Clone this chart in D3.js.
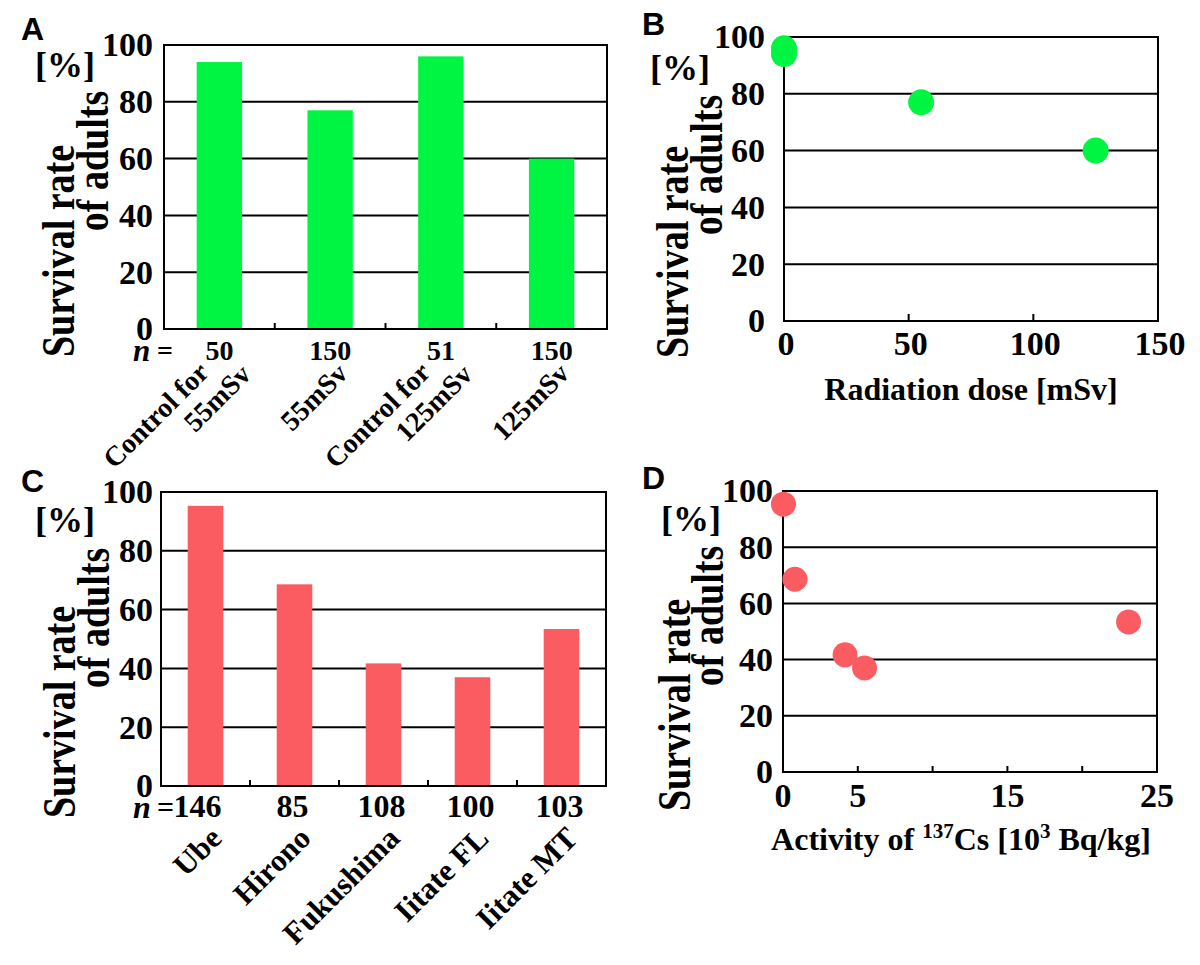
<!DOCTYPE html>
<html><head><meta charset="utf-8">
<script src="https://cdn.jsdelivr.net/npm/d3@7"></script>
<style>
body{margin:0;background:#fff}
svg{display:block}
text{font-family:"Liberation Serif","Times New Roman",serif;font-weight:bold;fill:#000}
.letter{font-family:"Liberation Sans",Arial,sans-serif}
</style>
</head><body><svg id="c" width="1200" height="965"></svg>
<script>
// ---------- data ----------
const yTicks = [0, 20, 40, 60, 80, 100];
const catA = [["Control for", "55mSv"], ["55mSv"], ["Control for", "125mSv"], ["125mSv"]];
const nA = ["50", "150", "51", "150"];
const survA = [94, 77, 96, 60];

const doseB = [0, 0, 55, 125];
const survB = [94, 96, 77, 60];
const xTicksB = [0, 50, 100, 150];

const catC = ["Ube", "Hirono", "Fukushima", "Iitate FL", "Iitate MT"];
const nC = ["146", "85", "108", "100", "103"];
const survC = [95.3, 68.6, 41.7, 37.0, 53.4];

const actD = [0.03, 0.8, 4.15, 5.45, 23.1];
const survD = [95.3, 68.6, 41.7, 37.0, 53.4];
const xTickMarksD = [5, 10, 15, 20];
const xTickLabelsD = [0, 5, 15, 25];

const GREEN = "#00f442", RED = "#fa5c62";
const svg = d3.select("#c");

function frame(L, R, T, B, y) {
  svg.append("g").selectAll("line").data(yTicks.filter(v => v > 0 && v < 100)).enter()
    .append("line").attr("x1", L).attr("x2", R)
    .attr("y1", d => y(d)).attr("y2", d => y(d))
    .attr("stroke", "#000").attr("stroke-width", 2);
}
function border(L, R, T, B) {
  svg.append("rect").attr("x", L).attr("y", T).attr("width", R - L).attr("height", B - T)
    .attr("fill", "none").attr("stroke", "#000").attr("stroke-width", 2);
}
function yAxis(L, y, pad, fs) {
  const ax = svg.append("g").attr("transform", `translate(${L},0)`)
    .call(d3.axisLeft(y).tickValues(yTicks).tickSize(0).tickPadding(pad));
  ax.select(".domain").remove();
  ax.selectAll("text").attr("font-size", fs).attr("font-family", null)
    .style("font-family", '"Liberation Serif",serif').style("font-weight", "bold");
}
function yTitle(x1, c1, x2, c2, px, py) {
  svg.append("text").attr("transform", `translate(${x1},${c1}) rotate(-90) scale(1,1.2)`).attr("text-anchor", "middle").attr("font-size", 38).text("Survival rate");
  svg.append("text").attr("transform", `translate(${x2},${c2}) rotate(-90) scale(1,1.2)`).attr("text-anchor", "middle").attr("font-size", 38).text("of adults");
  svg.append("text").attr("x", px).attr("y", py).attr("font-size", 36).text("[%]");
}
function letter(t, x, y) {
  svg.append("text").attr("class", "letter").attr("x", x).attr("y", y).attr("font-size", 32).text(t);
}
function rot(x, y, str, fs) {
  svg.append("text").attr("transform", `translate(${x},${y}) rotate(-45)`)
    .attr("text-anchor", "end").attr("font-size", fs).text(str);
}

// ---------- Panel A ----------
(function () {
  const L = 164, R = 607, T = 45, B = 329;
  const y = d3.scaleLinear().domain([0, 100]).range([B, T]);
  const x = d3.scaleBand().domain(d3.range(survA.length)).range([L, R]).padding(0);
  frame(L, R, T, B, y);
  const bw = x.bandwidth() * 0.41;
  svg.selectAll("rect.barA").data(survA).enter().append("rect")
    .attr("x", (d, i) => x(i) + (x.bandwidth() - bw) / 2).attr("width", bw)
    .attr("y", d => y(d)).attr("height", d => y(0) - y(d)).attr("fill", GREEN);
  svg.selectAll("line.tickA").data(d3.range(1, survA.length)).enter().append("line")
    .attr("x1", i => x(i)).attr("x2", i => x(i)).attr("y1", B).attr("y2", B - 6)
    .attr("stroke", "#000").attr("stroke-width", 2);
  border(L, R, T, B);
  yAxis(L, y, 11, 34);
  svg.append("text").attr("x", 133).attr("y", 361).attr("font-size", 31).style("font-style", "italic").text("n");
  svg.append("text").attr("x", 157).attr("y", 360).attr("font-size", 28).text("=");
  svg.selectAll("text.nA").data(nA).enter().append("text")
    .attr("x", (d, i) => x(i) + x.bandwidth() / 2).attr("y", 360).attr("text-anchor", "middle")
    .attr("font-size", 28).text(d => d);
  catA.forEach((lines, i) => {
    const cx = x(i) + x.bandwidth() / 2;
    if (lines.length === 1) {
      rot(cx + 19, 375, lines[0], 28);
    } else {
      rot(cx - 9, 374, lines[0], 28);
      rot(cx + 33, 376, lines[1], 28);
    }
  });
  yTitle(74, 251, 108, 161, 35, 77);
  letter("A", 21, 40);
})();

// ---------- Panel B ----------
(function () {
  const L = 784, R = 1158, T = 37, B = 321;
  const y = d3.scaleLinear().domain([0, 100]).range([B, T]);
  const x = d3.scaleLinear().domain([0, 150]).range([L, R]);
  frame(L, R, T, B, y);
  svg.selectAll("line.tickB").data(xTicksB.filter(v => v > 0 && v < 150)).enter().append("line")
    .attr("x1", d => x(d)).attr("x2", d => x(d)).attr("y1", B).attr("y2", B - 7)
    .attr("stroke", "#000").attr("stroke-width", 2);
  border(L, R, T, B);
  svg.selectAll("circle.dB").data(doseB).enter().append("circle")
    .attr("cx", d => x(d)).attr("cy", (d, i) => y(survB[i])).attr("r", 13).attr("fill", GREEN);
  yAxis(L, y, 19, 34);
  svg.selectAll("text.xlB").data(xTicksB).enter().append("text")
    .attr("x", d => x(d) + 2).attr("y", B + 34).attr("text-anchor", "middle").attr("font-size", 34).text(d => d);
  svg.append("text").attr("x", (L + R) / 2).attr("y", B + 79).attr("text-anchor", "middle").attr("font-size", 32).text("Radiation dose [mSv]");
  yTitle(688, 252, 722, 165, 650, 80);
  letter("B", 642, 35);
})();

// ---------- Panel C ----------
(function () {
  const L = 161, R = 606, T = 492, B = 786;
  const y = d3.scaleLinear().domain([0, 100]).range([B, T]);
  const x = d3.scaleBand().domain(d3.range(survC.length)).range([L, R]).padding(0);
  frame(L, R, T, B, y);
  const bw = x.bandwidth() * 0.40;
  svg.selectAll("rect.barC").data(survC).enter().append("rect")
    .attr("x", (d, i) => x(i) + (x.bandwidth() - bw) / 2).attr("width", bw)
    .attr("y", d => y(d)).attr("height", d => y(0) - y(d)).attr("fill", RED);
  svg.selectAll("line.tickC").data(d3.range(1, survC.length)).enter().append("line")
    .attr("x1", i => x(i)).attr("x2", i => x(i)).attr("y1", B).attr("y2", B - 6)
    .attr("stroke", "#000").attr("stroke-width", 2);
  border(L, R, T, B);
  yAxis(L, y, 8, 34);
  svg.append("text").attr("x", 133).attr("y", 818).attr("font-size", 32).style("font-style", "italic").text("n");
  svg.append("text").attr("x", 157).attr("y", 817).attr("font-size", 30).text("=");
  svg.selectAll("text.nC").data(nC).enter().append("text")
    .attr("x", (d, i) => x(i) + x.bandwidth() / 2 - (i === 0 ? 8 : 2)).attr("y", 817).attr("text-anchor", "middle")
    .attr("font-size", 32).text(d => d);
  catC.forEach((t, i) => {
    const cx = x(i) + x.bandwidth() / 2;
    rot(cx + 18, 840, t, 31);
  });
  yTitle(75, 712, 109, 618, 35, 532);
  letter("C", 21, 492);
})();

// ---------- Panel D ----------
(function () {
  const L = 783, R = 1157, T = 491, B = 772;
  const y = d3.scaleLinear().domain([0, 100]).range([B, T]);
  const x = d3.scaleLinear().domain([0, 25]).range([L, R]);
  frame(L, R, T, B, y);
  svg.selectAll("line.tickD").data(xTickMarksD).enter().append("line")
    .attr("x1", d => x(d)).attr("x2", d => x(d)).attr("y1", B).attr("y2", B - 6)
    .attr("stroke", "#000").attr("stroke-width", 2);
  border(L, R, T, B);
  svg.selectAll("circle.dD").data(actD).enter().append("circle")
    .attr("cx", d => x(d)).attr("cy", (d, i) => y(survD[i])).attr("r", 12.5).attr("fill", RED);
  yAxis(L, y, 10, 34);
  svg.selectAll("text.xlD").data(xTickLabelsD).enter().append("text")
    .attr("x", d => x(d)).attr("y", B + 35).attr("text-anchor", "middle").attr("font-size", 34).text(d => d);
  const t = svg.append("text").attr("x", 961).attr("y", 850).attr("text-anchor", "middle").attr("font-size", 32);
  t.append("tspan").text("Activity of ");
  t.append("tspan").attr("font-size", 21).attr("dy", -12).text("137");
  t.append("tspan").attr("dy", 12).text("Cs [10");
  t.append("tspan").attr("font-size", 21).attr("dy", -12).text("3");
  t.append("tspan").attr("dy", 12).text(" Bq/kg]");
  yTitle(690, 705, 723, 616, 661, 531);
  letter("D", 642, 489);
})();
</script></body></html>
